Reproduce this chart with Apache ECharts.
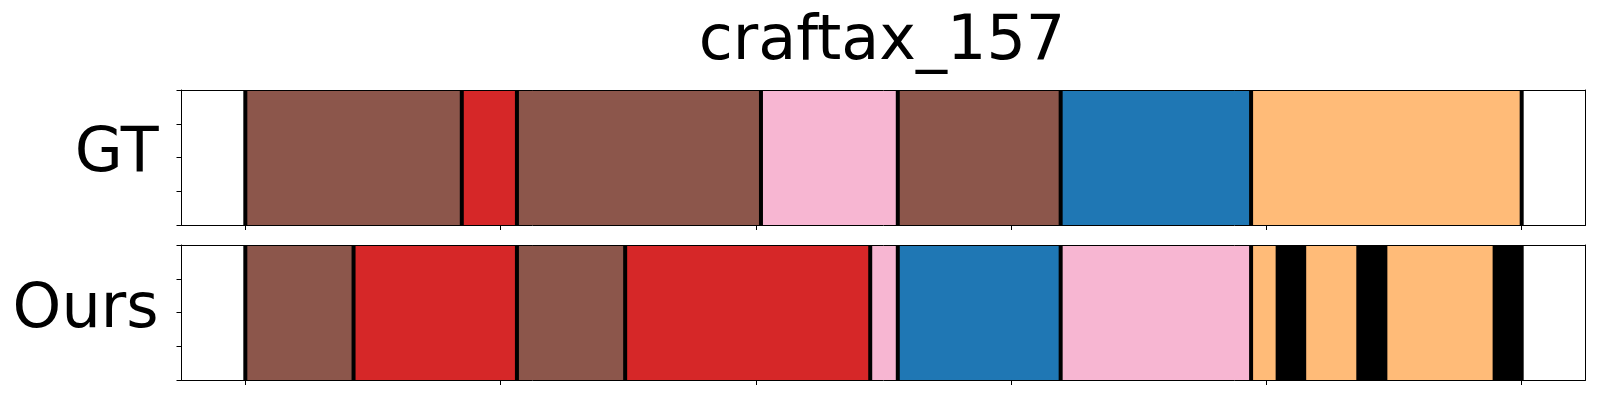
<!DOCTYPE html>
<html><head><meta charset="utf-8">
<script src="https://cdn.jsdelivr.net/npm/echarts@6/dist/echarts.min.js"></script>
<style>html,body{margin:0;padding:0;background:#fff}#c{width:1600px;height:400px}</style>
</head><body><div id="c"></div>
<script>
const chartTitle = 'craftax_157';
const rowLabels = ['GT', 'Ours'];
const classColors = {brown:'#8c564b', red:'#d62728', pink:'#f7b6d2', blue:'#1f77b4', orange:'#ffbb78', black:'#000000'};
const gtBounds = [0, 42.4, 53.2, 101, 127.8, 159.7, 197, 250];
const gtClasses = ['brown', 'red', 'brown', 'pink', 'brown', 'blue', 'orange'];
const oursBounds = [0, 21.2, 53.2, 74.4, 122.4, 127.8, 159.7, 197, 202.2, 207.4, 218, 223.3, 244.7, 250];
const oursClasses = ['brown', 'red', 'brown', 'red', 'pink', 'blue', 'pink', 'orange', 'black', 'orange', 'black', 'orange', 'black'];
const xTickValues = [0, 50, 100, 150, 200, 250];

const X_MIN = -12.5, X_MAX = 262.5, Y_MIN = 0, Y_MAX = 4;
const FONT = '"DejaVu Sans", sans-serif';

const chart = echarts.init(document.getElementById('c'), null, {renderer: 'canvas'});

const panels = [
  {bounds: gtBounds, classes: gtClasses, top: 90, label: rowLabels[0], labelY: 154.5},
  {bounds: oursBounds, classes: oursClasses, top: 245, label: rowLabels[1], labelY: 310.5}
];

const grids = [], xAxes = [], yAxes = [], series = [], graphics = [];

graphics.push({type: 'text', x: 882, y: 42.5, style: {text: chartTitle, font: '62px ' + FONT, fill: '#000', textAlign: 'center', textVerticalAlign: 'middle'}});

panels.forEach((p, i) => {
  grids.push({left: 181.5, top: p.top, width: 1404, height: 135, containLabel: false});
  const xb = xAxes.length;
  xAxes.push({type: 'value', gridIndex: i, min: X_MIN, max: X_MAX, position: 'bottom', z: 10,
    axisLine: {show: true, onZero: false, lineStyle: {color: '#000', width: 1}},
    axisTick: {show: true, customValues: xTickValues, length: 5, lineStyle: {color: '#000', width: 1}},
    axisLabel: {show: false}, splitLine: {show: false}});
  xAxes.push({type: 'value', gridIndex: i, min: X_MIN, max: X_MAX, position: 'top', z: 10,
    axisLine: {show: true, onZero: false, lineStyle: {color: '#000', width: 1}},
    axisTick: {show: false}, axisLabel: {show: false}, splitLine: {show: false}});
  const yb = yAxes.length;
  yAxes.push({type: 'value', gridIndex: i, min: Y_MIN, max: Y_MAX, interval: 1, position: 'left', z: 10,
    axisLine: {show: true, onZero: false, lineStyle: {color: '#000', width: 1}},
    axisTick: {show: true, length: 5, lineStyle: {color: '#000', width: 1}},
    axisLabel: {show: false}, splitLine: {show: false}});
  yAxes.push({type: 'value', gridIndex: i, min: Y_MIN, max: Y_MAX, position: 'right', z: 10,
    axisLine: {show: true, onZero: false, lineStyle: {color: '#000', width: 1}},
    axisTick: {show: false}, axisLabel: {show: false}, splitLine: {show: false}});

  const segData = p.classes.map((c, k) => ({value: [p.bounds[k], p.bounds[k + 1]], itemStyle: {color: classColors[c]}}));
  series.push({type: 'custom', xAxisIndex: xb, yAxisIndex: yb, z: 2, silent: true,
    encode: {x: [0, 1]}, data: segData,
    renderItem: (params, api) => {
      const a = api.coord([api.value(0), Y_MIN]);
      const b = api.coord([api.value(1), Y_MAX]);
      return {type: 'rect', shape: {x: a[0], y: b[1], width: b[0] - a[0], height: a[1] - b[1]},
        style: {fill: api.visual('color')}};
    }});
  series.push({type: 'custom', xAxisIndex: xb, yAxisIndex: yb, z: 3, silent: true,
    encode: {x: 0}, data: p.bounds.map(v => [v]),
    renderItem: (params, api) => {
      const a = api.coord([api.value(0), Y_MIN]);
      const b = api.coord([api.value(0), Y_MAX]);
      return {type: 'line', shape: {x1: a[0], y1: a[1], x2: b[0], y2: b[1]},
        style: {stroke: '#000', lineWidth: 4}};
    }});

  graphics.push({type: 'text', x: 158.5, y: p.labelY, style: {text: p.label, font: '62px ' + FONT, fill: '#000', textAlign: 'right', textVerticalAlign: 'middle'}});
});

chart.setOption({
  animation: false,
  backgroundColor: '#fff',
  grid: grids, xAxis: xAxes, yAxis: yAxes, series: series, graphic: graphics
});
</script></body></html>
